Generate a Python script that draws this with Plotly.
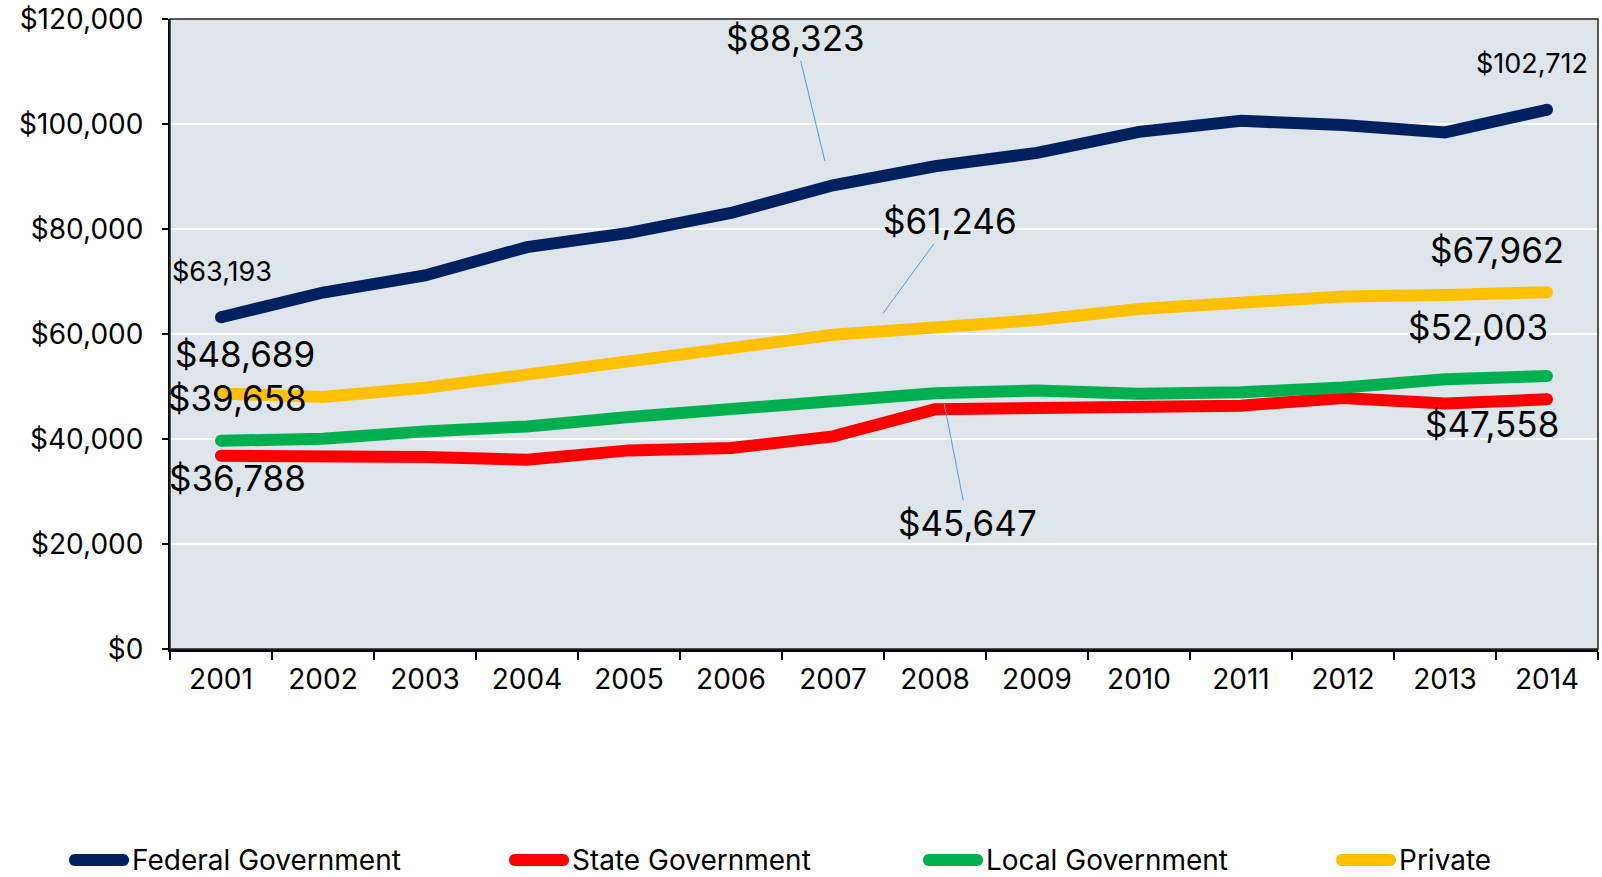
import plotly.graph_objects as go

years = [str(y) for y in range(2001, 2015)]

federal = [63193, 67900, 71150, 76550, 79250, 83050, 88323, 91950,
           94500, 98500, 100600, 99800, 98400, 102712]
state = [36788, 36800, 36570, 36060, 37830, 38280, 40500, 45647,
         45900, 46550, 46350, 47800, 46750, 47558]
local = [39658, 40050, 41450, 42400, 44190, 45700, 47750, 48700,
         49250, 48600, 48900, 49800, 51400, 52003]
private = [48689, 48000, 49750, 52300, 54800, 57300, 59850, 61246,
           62650, 64750, 65750, 67150, 67450, 67962]

series_names = ["Federal Government", "State Government", "Local Government", "Private"]
series_values = [federal, state, local, private]
series_colors = ["#002060", "#ff0000", "#00b050", "#ffc000"]

FONT = "Inter"

# plot-area geometry in pixels
W, H = 1602, 877
ML, MR, MT, MB = 170, 4, 19, 228
PW, PH = W - ML - MR, H - MT - MB

fig = go.Figure()
for name, vals, col in zip(series_names, series_values, series_colors):
    fig.add_trace(go.Scatter(
        x=years, y=vals, name=name, mode="lines",
        line=dict(color=col, width=12), showlegend=False,
    ))
    # round end caps
    fig.add_trace(go.Scatter(
        x=[years[0], years[-1]], y=[vals[0], vals[-1]], mode="markers",
        marker=dict(color=col, size=12, line=dict(width=0)),
        showlegend=False, hoverinfo="skip",
    ))

# value labels: (text, x index, y, font size, arrow tip or None)
labels = [
    ("$63,193", 0.01, 71900, 27, None),
    ("$48,689", 0.24, 56150, 35, None),
    ("$39,658", 0.16, 47750, 35, None),
    ("$36,788", 0.16, 32550, 35, None),
    ("$88,323", 5.63, 116320, 35, (5.92, 92950)),
    ("$61,246", 7.15, 81460, 35, (6.49, 63920)),
    ("$45,647", 7.32, 24000, 35, (7.09, 46700)),
    ("$102,712", 12.85, 111440, 27, None),
    ("$67,962", 12.51, 76000, 35, None),
    ("$52,003", 12.32, 61380, 35, None),
    ("$47,558", 12.46, 42890, 35, None),
]
for text, xi, yv, fs, tip in labels:
    if tip is None:
        fig.add_annotation(x=xi, y=yv, xref="x", yref="y", text=text,
                           showarrow=False, font=dict(size=fs, color="#000000", family=FONT))
    else:
        fig.add_annotation(x=tip[0], y=tip[1], ax=xi, ay=yv, xref="x", yref="y",
                           axref="x", ayref="y", text=text, showarrow=True,
                           arrowhead=0, arrowwidth=1, arrowcolor="#5b9bd5",
                           font=dict(size=fs, color="#000000", family=FONT))

# legend row along the bottom: pill swatch + name
legend_left_px = [69, 509, 923, 1336]
legend_y_px = 860
pill = "M 6,-6 L 54,-6 C 62,-6 62,6 54,6 L 6,6 C -2,6 -2,-6 6,-6 Z"
ly = (H - MB - legend_y_px) / PH
for name, col, lx in zip(series_names, series_colors, legend_left_px):
    fig.add_shape(type="path", path=pill, xref="paper", yref="paper",
                  xsizemode="pixel", ysizemode="pixel",
                  xanchor=(lx - ML) / PW, yanchor=ly,
                  fillcolor=col, line=dict(width=0))
    fig.add_annotation(x=(lx + 61 - ML) / PW, y=ly, xref="paper", yref="paper",
                       text=name, showarrow=False, xanchor="left", yanchor="middle",
                       font=dict(size=28, family=FONT, color="#000000"))

# thin frame around the plotting area
fig.add_shape(type="rect", xref="paper", yref="paper", x0=0, y0=0, x1=1, y1=1,
              line=dict(color="#222222", width=1.5), layer="above")

fig.update_layout(
    width=W, height=H,
    margin=dict(l=ML, r=MR, t=MT, b=MB, autoexpand=False),
    paper_bgcolor="#ffffff",
    plot_bgcolor="#dee5eb",
    font=dict(family=FONT, size=28, color="#000000"),
    showlegend=False,
)
fig.update_xaxes(
    type="category", range=[-0.5, 13.5], tickson="boundaries",
    ticks="outside", ticklen=8, tickwidth=2, tickcolor="#000000",
    showline=True, linecolor="#000000", linewidth=3,
    showgrid=False, ticklabelstandoff=3,
    tickfont=dict(size=28, family=FONT),
)
fig.update_yaxes(
    range=[0, 120000], dtick=20000, tickformat="$,.0f",
    ticks="outside", ticklen=6, tickwidth=2, tickcolor="#000000",
    showline=True, linecolor="#000000", linewidth=2,
    showgrid=True, gridcolor="#ffffff", gridwidth=2, zeroline=False,
    ticklabelstandoff=13,
    tickfont=dict(size=28, family=FONT),
)

fig.write_html("out.html")
